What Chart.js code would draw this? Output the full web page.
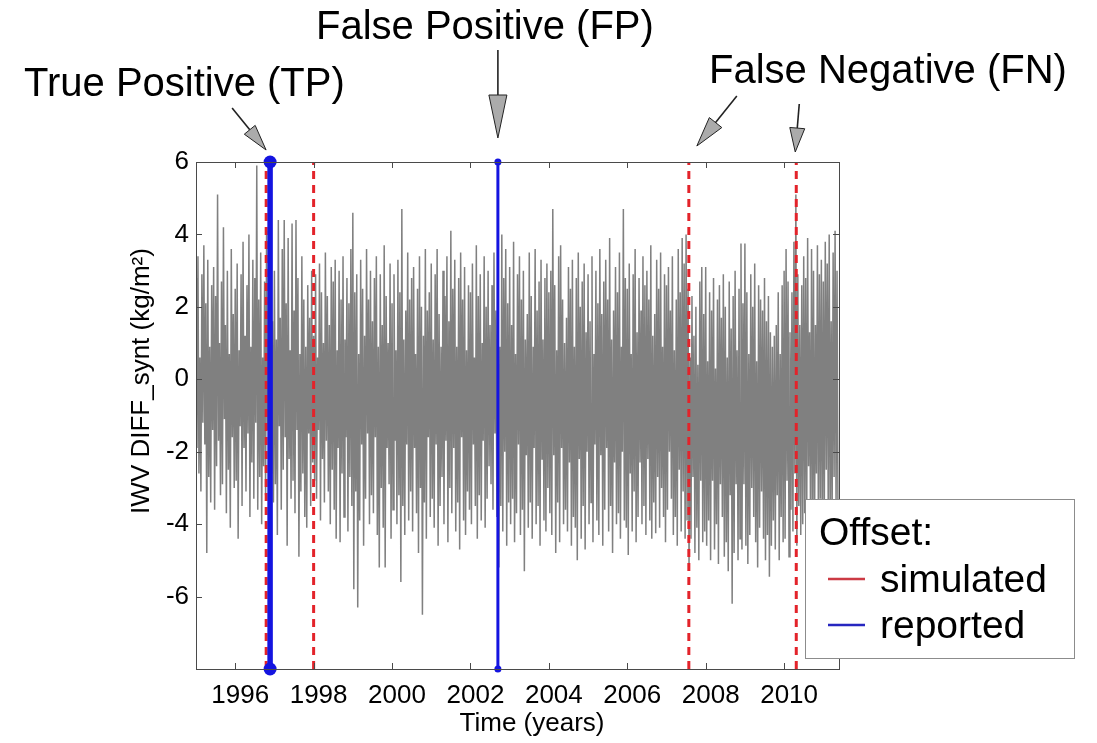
<!DOCTYPE html>
<html><head><meta charset="utf-8">
<script src="https://cdn.jsdelivr.net/npm/chart.js@4.4.0/dist/chart.umd.min.js"></script>
<style>html,body{margin:0;padding:0;background:#fff;}#wrap{width:1097px;height:743px;}</style>
</head><body><div id="wrap"><canvas id="c" width="1097" height="743"></canvas></div>
<script>
// ---- data ----
const seriesStart = 1995.0;      // first sample (decimal year)
const seriesStep = 0.025;        // sampling step (years)
const iwvDiff = [
2.8,-1.9,3.4,-2.6,0.6,-3.1,2.9,-1.2,3.7,-1.8,2.1,-4.8,3.3,-2.7,0.9,-3.4,2.6,-1.4,3.1,-3.6,
2.3,-2.4,5.1,-1.7,1.0,-3.2,2.7,-2.9,4.2,-1.1,1.5,-3.7,3.0,-2.5,0.7,-4.1,3.6,-1.6,1.8,-3.0,
2.5,-2.8,3.2,-4.4,0.8,-1.3,2.9,-3.5,3.8,-1.9,1.2,-3.1,2.6,-1.5,4.0,-3.8,0.9,-2.3,3.3,-3.3,
2.8,-1.2,5.9,-3.6,2.2,-2.7,3.5,-4.0,0.6,-2.4,2.7,-3.2,4.1,-1.4,1.1,-3.9,2.9,-2.6,1.6,-3.4,
3.0,-2.9,1.1,-4.3,4.4,-1.3,1.7,-3.6,3.6,-2.5,4.4,-1.6,2.1,-4.6,3.9,-2.2,0.8,-3.3,4.3,-2.8,
1.9,-3.7,4.4,-1.4,2.8,-4.9,0.7,-3.1,3.4,-2.6,2.2,-3.8,0.9,-4.1,2.6,-1.5,1.7,-3.5,3.0,-2.3,
1.2,-2.8,2.9,-3.3,0.6,-1.4,3.2,-3.9,2.4,-2.2,1.0,-3.4,3.5,-1.7,2.3,-3.1,1.5,-4.0,3.1,-2.5,
2.7,-3.6,3.3,-4.4,0.8,-1.9,3.0,-4.5,2.2,-2.6,3.4,-3.8,1.1,-1.6,2.8,-4.2,2.1,-2.7,3.6,-3.5,
4.6,-5.8,2.4,-3.1,2.9,-6.3,0.7,-3.9,3.3,-1.8,2.5,-4.6,1.2,-3.3,3.6,-1.5,2.2,-4.0,3.0,-3.2,
1.6,-3.7,2.8,-1.6,3.4,-4.3,0.9,-5.2,2.9,-3.0,1.5,-4.1,3.7,-5.2,2.3,-1.9,1.0,-2.9,3.2,-4.4,
2.1,-3.6,2.9,-1.7,0.8,-4.0,3.3,-3.2,2.4,-5.6,4.7,-3.5,1.1,-4.3,1.9,-1.8,3.5,-3.9,2.2,-3.1,
2.8,-4.2,3.1,-1.9,0.7,-3.7,2.5,-4.8,3.4,-3.0,2.0,-6.5,1.2,-3.4,3.6,-4.4,1.9,-1.6,2.4,-3.8,
3.2,-3.3,1.1,-4.1,2.9,-1.8,3.6,-4.6,1.8,-3.5,0.9,-2.7,3.0,-4.0,2.3,-1.7,3.4,-4.5,1.6,-3.0,
4.1,-3.7,2.5,-1.9,3.3,-4.2,0.9,-3.4,2.8,-4.7,3.5,-1.6,2.2,-3.9,3.1,-4.3,0.8,-3.1,2.6,-3.6,
2.4,-4.0,3.2,-1.8,0.6,-3.5,3.7,-4.4,2.3,-3.2,2.9,-3.9,1.0,-1.7,3.4,-4.1,2.0,-3.3,3.0,-2.4,
1.5,-2.9,2.6,-3.6,3.5,-1.5,1.9,-3.8,3.3,-5.2,0.9,-3.5,4.0,-4.2,2.8,-2.0,3.6,-4.6,2.1,-3.4,
3.1,-4.0,1.5,-3.3,3.8,-4.5,0.7,-3.7,2.9,-1.8,3.4,-4.3,2.2,-3.6,3.0,-5.3,1.1,-2.1,1.8,-4.1,
3.5,-3.4,2.3,-4.4,0.9,-1.9,3.6,-4.0,1.9,-3.5,2.7,-4.6,3.3,-2.2,1.1,-3.9,2.8,-4.2,3.2,-3.0,
2.4,-3.7,3.0,-4.3,4.7,-2.1,2.6,-4.8,0.8,-3.4,3.4,-4.5,3.7,-1.9,2.2,-4.0,1.0,-3.6,1.7,-4.2,
3.1,-2.3,2.5,-4.6,3.3,-3.8,0.9,-4.1,2.8,-5.0,3.5,-2.2,2.0,-4.4,2.7,-3.5,3.2,-4.7,1.3,-2.0,
2.9,-4.0,1.6,-3.4,3.4,-4.5,0.7,-1.8,3.0,-3.9,2.1,-4.3,3.6,-2.1,1.8,-4.6,2.7,-3.6,3.3,-1.9,
2.2,-4.2,3.9,-3.5,1.1,-4.8,1.9,-2.3,3.1,-4.0,2.4,-3.7,3.5,-4.4,0.9,-2.0,4.7,-3.9,2.8,-4.1,
2.5,-4.85,3.2,-2.6,0.7,-4.2,2.9,-3.1,3.6,-4.5,1.3,-3.8,2.8,-2.3,1.9,-4.0,3.4,-3.5,2.6,-4.3,
3.0,-2.2,2.2,-3.9,3.7,-4.4,1.2,-3.4,1.8,-4.25,3.3,-2.7,2.5,-4.1,3.5,-3.0,0.9,-3.8,2.9,-4.5,
2.6,-3.6,3.1,-2.0,1.9,-3.3,3.4,-4.3,0.8,-3.8,2.2,-4.6,3.6,-2.5,2.4,-4.2,3.9,-3.1,3.2,-4.4,
4.0,-3.9,2.5,-5.2,0.6,-4.4,2.3,-2.7,1.2,-4.8,2.0,-4.1,0.4,-5.0,2.7,-2.8,3.1,-4.5,1.8,-4.2,
3.1,-4.6,0.5,-3.9,2.4,-5.0,1.9,-2.8,2.8,-4.7,0.3,-4.0,2.2,-5.1,2.6,-2.9,1.7,-3.8,2.9,-4.9,
2.0,-4.5,0.6,-5.3,2.7,-3.2,1.4,-6.2,2.3,-4.8,3.0,-2.9,0.8,-5.0,2.5,-4.4,3.75,-4.7,2.1,-2.9,
3.75,-4.6,2.4,-5.1,0.7,-4.3,2.9,-3.0,2.0,-3.8,3.2,-4.5,0.5,-5.2,2.6,-4.1,2.2,-3.1,1.9,-4.4,
2.8,-5.0,1.6,-4.3,2.3,-5.45,1.3,-4.6,0.9,-3.9,1.2,-4.7,1.5,-3.2,2.4,-5.0,0.7,-3.8,2.6,-4.5,
3.0,-4.4,3.6,-2.8,2.7,-4.9,1.3,-3.6,2.4,-4.2,3.8,-2.6,5.1,-4.6,2.9,-3.5,1.5,-4.3,2.6,-4.0,
3.4,-3.7,2.8,-4.5,3.9,-2.4,1.3,-4.1,3.6,-3.9,3.0,-4.6,1.5,-2.6,3.7,-4.2,2.9,-3.3,3.3,-4.4,
2.7,-3.8,3.8,-2.5,3.2,-3.5,4.0,-4.3,1.6,-3.7,3.5,-2.7,4.1,-3.4,3.0,-4.0
];
const simulatedOffsets = [1996.79, 1998.0, 2007.57, 2010.31];
const reportedOffsets = [1996.89, 2002.70];
const xTickYears = [1996, 1998, 2000, 2002, 2004, 2006, 2008, 2010];
const yTickValues = [-6, -4, -2, 0, 2, 4, 6];
const xRange = [1995.0, 2011.4];
const yRange = [-8, 6];
const xAxisTitle = 'Time (years)';
const yAxisTitle = 'IWV DIFF_synt (kg/m\u00B2)';
const legendTitle = 'Offset:';
const legendLabels = ['simulated', 'reported'];
const annotationLabels = ['True Positive (TP)', 'False Positive (FP)', 'False Negative (FN)'];

// ---- styles ----
const FONT = '"Liberation Sans", Arial, Helvetica, sans-serif';
const GRAY = '#808080';
const RED = '#e3232a';
const BLUE = '#1414e0';
const FRAME = '#4a4a4a';

const seriesPoints = iwvDiff.map((v, i) => ({x: seriesStart + i * seriesStep, y: v}));
const vline = (t) => [{x: t, y: yRange[0]}, {x: t, y: yRange[1]}];

const datasets = [];
reportedOffsets.forEach((t, i) => datasets.push({
  label: legendLabels[1], data: vline(t), borderColor: BLUE, backgroundColor: BLUE,
  borderWidth: i === 0 ? 5.5 : 3, pointRadius: i === 0 ? 6.5 : 3.5, pointBorderWidth: 0,
  pointBackgroundColor: BLUE, clip: false, order: 1
}));
simulatedOffsets.forEach(t => datasets.push({
  label: legendLabels[0], data: vline(t), borderColor: RED, borderWidth: 3,
  borderDash: [8, 6], pointRadius: 0, order: 2
}));
datasets.push({
  label: 'IWV', data: seriesPoints, borderColor: GRAY, borderWidth: 1.5,
  pointRadius: 0, tension: 0, order: 3
});

const decorPlugin = {
  id: 'decor',
  afterDatasetsDraw(chart) {
    const ctx = chart.ctx, a = chart.chartArea;
    const xs = chart.scales.x, ys = chart.scales.y;
    ctx.save();
    ctx.strokeStyle = FRAME; ctx.lineWidth = 1;
    ctx.strokeRect(Math.round(a.left) + 0.5, Math.round(a.top) + 0.5,
                   Math.round(a.right - a.left), Math.round(a.bottom - a.top));
    ctx.beginPath();
    const tl = 6;
    xTickYears.forEach(v => {
      const p = Math.round(xs.getPixelForValue(v)) + 0.5;
      ctx.moveTo(p, a.bottom); ctx.lineTo(p, a.bottom - tl);
      ctx.moveTo(p, a.top); ctx.lineTo(p, a.top + tl);
    });
    yTickValues.forEach(v => {
      const p = Math.round(ys.getPixelForValue(v)) + 0.5;
      ctx.moveTo(a.left, p); ctx.lineTo(a.left + tl, p);
      ctx.moveTo(a.right, p); ctx.lineTo(a.right - tl, p);
    });
    ctx.stroke();
    ctx.restore();
  },
  afterDraw(chart) {
    const ctx = chart.ctx, a = chart.chartArea;
    const xs = chart.scales.x;
    ctx.save();
    ctx.fillStyle = '#000';
    // axis titles
    ctx.font = '26px ' + FONT;
    ctx.textAlign = 'center'; ctx.textBaseline = 'alphabetic';
    ctx.fillText(xAxisTitle, 532, 731);
    ctx.save();
    ctx.translate(149, 381); ctx.rotate(-Math.PI / 2);
    ctx.fillText(yAxisTitle, 0, 0);
    ctx.restore();

    // legend
    const lx = 805, ly = 499, lw = 269, lh = 159;
    ctx.fillStyle = '#fff'; ctx.fillRect(lx, ly, lw, lh);
    ctx.strokeStyle = '#8c8c8c'; ctx.lineWidth = 1;
    ctx.strokeRect(lx + 0.5, ly + 0.5, lw, lh);
    ctx.fillStyle = '#000'; ctx.textAlign = 'left';
    ctx.font = '39px ' + FONT;
    ctx.fillText(legendTitle, 819, 545);
    const rows = [{c: '#cc3a44', y: 579, ty: 592, t: legendLabels[0]}, {c: '#2626c0', y: 625, ty: 638, t: legendLabels[1]}];
    rows.forEach(r => {
      ctx.strokeStyle = r.c; ctx.lineWidth = 2.5;
      ctx.beginPath(); ctx.moveTo(828, r.y); ctx.lineTo(865, r.y); ctx.stroke();
      ctx.fillStyle = '#000'; ctx.fillText(r.t, 880, r.ty);
    });

    // annotations
    ctx.font = '40px ' + FONT;
    ctx.fillText(annotationLabels[0], 24, 96);
    ctx.fillText(annotationLabels[1], 316, 39);
    ctx.fillText(annotationLabels[2], 709, 83);

    const arrow = (x1, y1, x2, y2, hl, hw) => {
      const dx = x2 - x1, dy = y2 - y1, L = Math.hypot(dx, dy);
      const ux = dx / L, uy = dy / L, px = -uy, py = ux;
      const bx = x2 - ux * hl, by = y2 - uy * hl;
      ctx.strokeStyle = '#222'; ctx.lineWidth = 1.6;
      ctx.beginPath(); ctx.moveTo(x1, y1); ctx.lineTo(bx, by); ctx.stroke();
      ctx.beginPath();
      ctx.moveTo(x2, y2);
      ctx.lineTo(bx + px * hw / 2, by + py * hw / 2);
      ctx.lineTo(bx - px * hw / 2, by - py * hw / 2);
      ctx.closePath();
      ctx.fillStyle = '#ababab'; ctx.fill();
      ctx.lineWidth = 1; ctx.stroke();
    };
    const top = a.top;
    const pTP = xs.getPixelForValue(reportedOffsets[0]);
    const pFP = xs.getPixelForValue(reportedOffsets[1]);
    const pFN1 = xs.getPixelForValue(simulatedOffsets[2]);
    const pFN2 = xs.getPixelForValue(simulatedOffsets[3]);
    arrow(pTP - 38, top - 54, pTP - 4, top - 12, 26, 14);
    arrow(pFP, top - 112, pFP, top - 24, 43, 18);
    arrow(pFN1 + 48, top - 66, pFN1 + 8, top - 16, 30, 16);
    arrow(pFN2 + 3, top - 58, pFN2 - 1, top - 10, 24, 15);
    ctx.restore();
  }
};

new Chart(document.getElementById('c'), {
  type: 'line',
  data: {datasets},
  options: {
    responsive: false, devicePixelRatio: 1, animation: false,
    layout: {padding: {left: 0, top: 162, right: 258, bottom: 0}},
    plugins: {legend: {display: false}, tooltip: {enabled: false}, title: {display: false}},
    scales: {
      x: {
        type: 'linear', min: xRange[0], max: xRange[1],
        afterBuildTicks: s => { s.ticks = xTickYears.map(v => ({value: v})); },
        afterFit: s => { s.height = 74; },
        grid: {display: false, drawTicks: false, tickLength: 0},
        border: {display: false},
        ticks: {callback: v => String(v), autoSkip: false, maxRotation: 0, padding: 11, labelOffset: 5,
                color: '#000', font: {size: 26, family: FONT}}
      },
      y: {
        type: 'linear', min: yRange[0], max: yRange[1],
        afterBuildTicks: s => { s.ticks = yTickValues.map(v => ({value: v})); },
        afterFit: s => { s.width = 196; },
        grid: {display: false, drawTicks: false, tickLength: 0},
        border: {display: false},
        ticks: {callback: v => String(v), padding: 7, color: '#000', font: {size: 26, family: FONT}}
      }
    }
  },
  plugins: [decorPlugin]
});
</script></body></html>
